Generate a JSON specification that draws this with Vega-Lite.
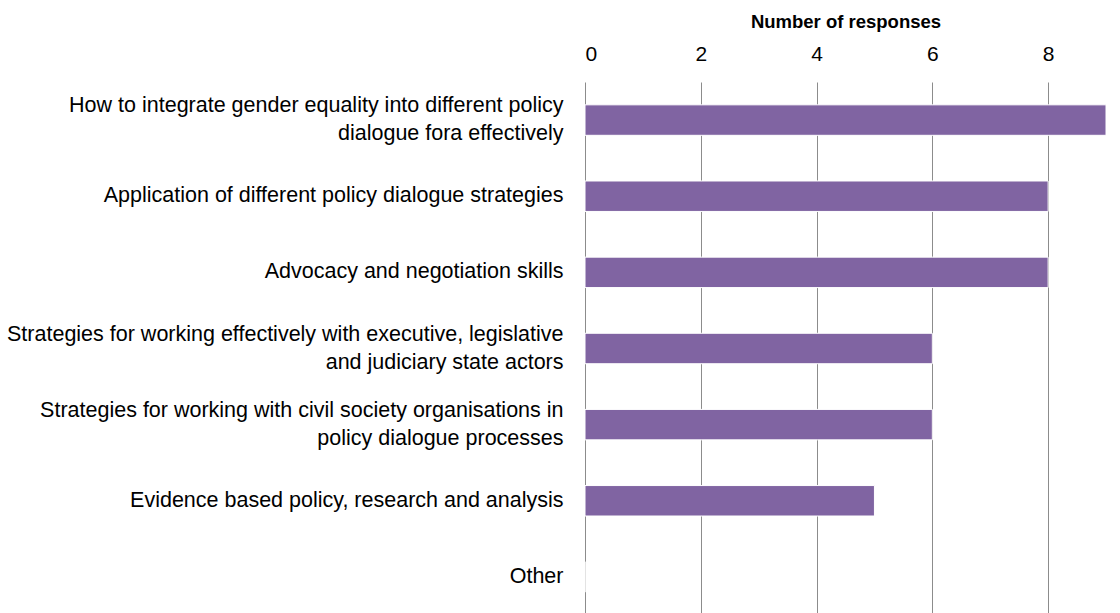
{
  "$schema": "https://vega.github.io/schema/vega-lite/v6.json",
  "autosize": "none",
  "width": 521,
  "height": 533,
  "padding": {"left": 585, "top": 82, "right": 14, "bottom": 0},
  "background": "white",
  "config": {"view": {"stroke": null}, "font": "Liberation Sans"},
  "data": {"values": [
    {"topic": "How to integrate gender equality into different policy|dialogue fora effectively", "responses": 9},
    {"topic": "Application of different policy dialogue strategies", "responses": 8},
    {"topic": "Advocacy and negotiation skills", "responses": 8},
    {"topic": "Strategies for working effectively with executive, legislative|and judiciary state actors", "responses": 6},
    {"topic": "Strategies for working with civil society organisations in|policy dialogue processes", "responses": 6},
    {"topic": "Evidence based policy, research and analysis", "responses": 5},
    {"topic": "Other", "responses": 0}
  ]},
  "mark": {"type": "bar", "color": "#8064A2", "stroke": "#ffffff", "strokeWidth": 1},
  "encoding": {
    "y": {
      "field": "topic", "type": "nominal", "sort": null,
      "scale": {"paddingInner": 0.6, "paddingOuter": 0.3},
      "axis": {
        "title": null, "domain": false, "ticks": false, "grid": false,
        "labelFontSize": 21.5, "labelColor": "#000000", "labelLimit": 600,
        "labelPadding": 22, "labelLineHeight": 28,
        "labelOffset": {"condition": {"test": "indexof(datum.value, '|') >= 0", "value": -14}, "value": 0},
        "labelExpr": "split(datum.label, '|')"
      }
    },
    "x": {
      "field": "responses", "type": "quantitative",
      "scale": {"domain": [0, 9], "nice": false},
      "axis": {
        "orient": "top", "title": "Number of responses",
        "titleFontSize": 18.5, "titleFontWeight": "bold", "titleColor": "#000000", "titlePadding": 12,
        "values": [0, 2, 4, 6, 8], "domain": false, "ticks": false,
        "grid": true, "gridColor": "#8c8c8c", "gridWidth": 1, "gridOpacity": 1,
        "labelFontSize": 21, "labelColor": "#000000", "labelPadding": 18
      }
    }
  }
}
